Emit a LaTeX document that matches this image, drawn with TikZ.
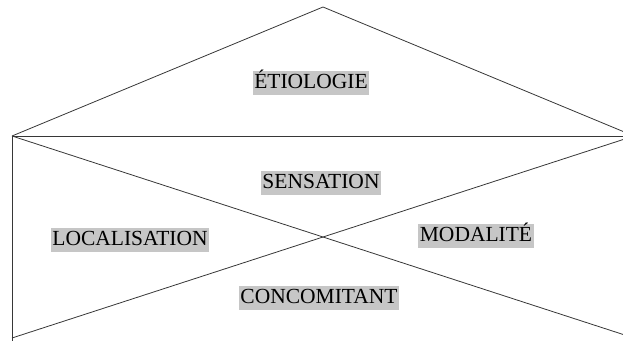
\documentclass[tikz,border=0pt]{standalone}
\usepackage{fontspec}
\setmainfont{Liberation Serif}
\definecolor{labelgray}{RGB}{198,198,198}
\definecolor{linecol}{RGB}{55,55,55}
\tikzset{
  lbl/.style={fill=labelgray, text=black, font=\fontsize{21.5}{24}\selectfont,
    inner xsep=1.5pt, inner ysep=2.5pt, text height=15pt, text depth=3.5pt},
  edge/.style={draw=linecol, line width=0.8pt}
}
\begin{document}
\begin{tikzpicture}[x=1pt,y=-1pt]
\useasboundingbox (0,0) rectangle (623,340);
\clip (0,0) rectangle (623,340);
\coordinate (apex) at (323,7);
\coordinate (lt) at (12,136);
\coordinate (rt) at (634,136);
\coordinate (lb) at (12,338);
\coordinate (rb) at (634,338);
\coordinate (lbe) at (12,345);
\draw[edge] (lt) -- (apex) -- (rt);
\draw[edge] (lt) -- (rt);
\draw[edge] (lt) -- (lbe);
\draw[edge] (lt) -- (rb);
\draw[edge] (lb) -- (rt);
\node[lbl] (etio) at (311,83) {ÉTIOLOGIE};
\node[lbl] (sens) at (321,183) {SENSATION};
\node[lbl] (loc) at (130,240) {LOCALISATION};
\node[lbl] (moda) at (476,236) {MODALITÉ};
\node[lbl] (conc) at (319,298) {CONCOMITANT};
\end{tikzpicture}
\end{document}
